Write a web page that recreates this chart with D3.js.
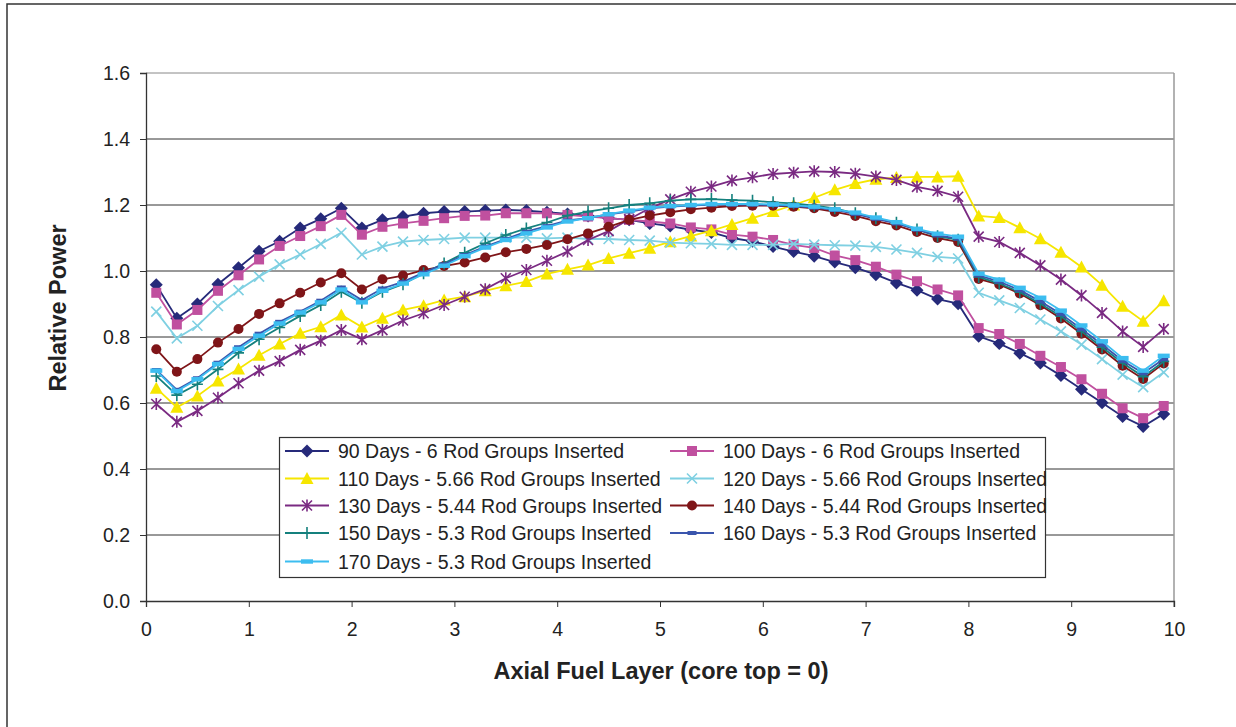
<!DOCTYPE html>
<html>
<head>
<meta charset="utf-8">
<script src="https://cdn.jsdelivr.net/npm/d3@7"></script>
<style>
  body { margin: 0; background: #fff; }
  text { font-family: "Liberation Sans", Arial, sans-serif; fill: #222; }
</style>
</head>
<body>
<div id="chart"></div>
<script>
const layers = [0.1, 0.3, 0.5, 0.7, 0.9, 1.1, 1.3, 1.5, 1.7, 1.9,
                2.1, 2.3, 2.5, 2.7, 2.9, 3.1, 3.3, 3.5, 3.7, 3.9,
                4.1, 4.3, 4.5, 4.7, 4.9, 5.1, 5.3, 5.5, 5.7, 5.9,
                6.1, 6.3, 6.5, 6.7, 6.9, 7.1, 7.3, 7.5, 7.7, 7.9,
                8.1, 8.3, 8.5, 8.7, 8.9, 9.1, 9.3, 9.5, 9.7, 9.9];

const days90 = [0.958, 0.857, 0.900, 0.960, 1.010, 1.060, 1.090, 1.130, 1.158, 1.190,
                1.130, 1.155, 1.165, 1.175, 1.180, 1.180, 1.183, 1.185, 1.183, 1.178,
                1.173, 1.167, 1.160, 1.155, 1.144, 1.136, 1.125, 1.117, 1.100, 1.090,
                1.074, 1.059, 1.045, 1.027, 1.010, 0.989, 0.964, 0.942, 0.915, 0.901,
                0.802, 0.780, 0.751, 0.721, 0.683, 0.642, 0.601, 0.559, 0.529, 0.567];
const days100 = [0.934, 0.838, 0.882, 0.940, 0.987, 1.035, 1.076, 1.106, 1.136, 1.170,
                 1.110, 1.134, 1.144, 1.152, 1.160, 1.167, 1.168, 1.175, 1.175, 1.175,
                 1.170, 1.165, 1.160, 1.155, 1.150, 1.144, 1.132, 1.126, 1.110, 1.104,
                 1.094, 1.079, 1.070, 1.047, 1.033, 1.013, 0.989, 0.969, 0.944, 0.926,
                 0.827, 0.809, 0.779, 0.743, 0.709, 0.672, 0.628, 0.584, 0.554, 0.591];
const days110 = [0.645, 0.587, 0.621, 0.667, 0.703, 0.745, 0.779, 0.811, 0.831, 0.867,
                 0.830, 0.857, 0.882, 0.895, 0.912, 0.922, 0.940, 0.955, 0.968, 0.991,
                 1.005, 1.018, 1.038, 1.054, 1.069, 1.089, 1.106, 1.122, 1.141, 1.160,
                 1.180, 1.200, 1.222, 1.246, 1.265, 1.278, 1.283, 1.285, 1.285, 1.287,
                 1.167, 1.162, 1.131, 1.098, 1.057, 1.012, 0.957, 0.893, 0.848, 0.910];
const days120 = [0.877, 0.796, 0.834, 0.894, 0.942, 0.983, 1.020, 1.050, 1.082, 1.116,
                 1.050, 1.074, 1.089, 1.094, 1.097, 1.101, 1.101, 1.101, 1.101, 1.099,
                 1.101, 1.097, 1.097, 1.094, 1.092, 1.086, 1.084, 1.082, 1.079, 1.079,
                 1.079, 1.082, 1.080, 1.078, 1.077, 1.073, 1.065, 1.055, 1.043, 1.038,
                 0.934, 0.911, 0.888, 0.853, 0.817, 0.777, 0.733, 0.686, 0.648, 0.693];
const days130 = [0.597, 0.543, 0.576, 0.616, 0.660, 0.698, 0.727, 0.761, 0.789, 0.821,
                 0.793, 0.821, 0.850, 0.872, 0.897, 0.922, 0.945, 0.978, 1.003, 1.031,
                 1.059, 1.094, 1.121, 1.157, 1.190, 1.217, 1.240, 1.256, 1.274, 1.284,
                 1.294, 1.298, 1.302, 1.300, 1.295, 1.286, 1.276, 1.255, 1.243, 1.225,
                 1.104, 1.088, 1.055, 1.017, 0.974, 0.926, 0.873, 0.817, 0.770, 0.824];
const days140 = [0.763, 0.695, 0.733, 0.783, 0.824, 0.870, 0.902, 0.934, 0.965, 0.993,
                 0.944, 0.975, 0.986, 1.003, 1.015, 1.026, 1.041, 1.057, 1.067, 1.079,
                 1.096, 1.114, 1.134, 1.155, 1.168, 1.178, 1.187, 1.192, 1.197, 1.198,
                 1.198, 1.195, 1.190, 1.179, 1.167, 1.151, 1.138, 1.118, 1.100, 1.088,
                 0.976, 0.959, 0.932, 0.896, 0.856, 0.810, 0.762, 0.713, 0.673, 0.720];
const days150 = [0.682, 0.624, 0.657, 0.702, 0.752, 0.793, 0.829, 0.864, 0.897, 0.937,
                 0.904, 0.937, 0.960, 0.993, 1.023, 1.055, 1.084, 1.109, 1.129, 1.147,
                 1.168, 1.180, 1.190, 1.200, 1.205, 1.213, 1.217, 1.218, 1.215, 1.213,
                 1.208, 1.205, 1.198, 1.190, 1.175, 1.160, 1.146, 1.126, 1.105, 1.095,
                 0.982, 0.962, 0.936, 0.901, 0.863, 0.817, 0.769, 0.721, 0.680, 0.726];
const days160 = [0.700, 0.640, 0.675, 0.722, 0.769, 0.810, 0.846, 0.877, 0.910, 0.950,
                 0.912, 0.947, 0.967, 0.995, 1.020, 1.048, 1.074, 1.097, 1.119, 1.136,
                 1.153, 1.160, 1.172, 1.180, 1.190, 1.195, 1.198, 1.201, 1.201, 1.201,
                 1.200, 1.197, 1.192, 1.185, 1.173, 1.158, 1.144, 1.125, 1.108, 1.098,
                 0.987, 0.968, 0.942, 0.908, 0.870, 0.824, 0.777, 0.728, 0.690, 0.733];
const days170 = [0.698, 0.636, 0.672, 0.718, 0.764, 0.804, 0.841, 0.874, 0.905, 0.944,
                 0.905, 0.940, 0.962, 0.990, 1.016, 1.045, 1.071, 1.094, 1.114, 1.132,
                 1.150, 1.160, 1.172, 1.183, 1.192, 1.197, 1.200, 1.203, 1.203, 1.203,
                 1.202, 1.199, 1.195, 1.187, 1.177, 1.162, 1.148, 1.128, 1.113, 1.104,
                 0.992, 0.974, 0.949, 0.919, 0.880, 0.835, 0.787, 0.736, 0.698, 0.743];

const seriesNames = ["90 Days - 6 Rod Groups Inserted", "100 Days - 6 Rod Groups Inserted",
                     "110 Days - 5.66 Rod Groups Inserted", "120 Days - 5.66 Rod Groups Inserted",
                     "130 Days - 5.44 Rod Groups Inserted", "140 Days - 5.44 Rod Groups Inserted",
                     "150 Days - 5.3 Rod Groups Inserted", "160 Days - 5.3 Rod Groups Inserted",
                     "170 Days - 5.3 Rod Groups Inserted"];
const seriesValues = [days90, days100, days110, days120, days130, days140, days150, days160, days170];
const xTicks = [0, 1, 2, 3, 4, 5, 6, 7, 8, 9, 10];
const yTicks = [0, 0.2, 0.4, 0.6, 0.8, 1.0, 1.2, 1.4, 1.6];

const styles = [
  { color: "#262a7a", marker: "diamond" },
  { color: "#c0509f", marker: "square" },
  { color: "#f6e600", marker: "triangle" },
  { color: "#7fd0e2", marker: "x" },
  { color: "#7a2a82", marker: "asterisk" },
  { color: "#7f1518", marker: "circle" },
  { color: "#14807d", marker: "plus" },
  { color: "#3a55ad", marker: "dash" },
  { color: "#3cbdf0", marker: "dashwide" }
];

const width = 1236, height = 727;
const margin = { left: 146, right: 62, top: 73, bottom: 126 };

const svg = d3.select("#chart").append("svg")
  .attr("width", width)
  .attr("height", height);

// outer frame, runs off the right and bottom of the picture
svg.append("rect")
  .attr("x", 7).attr("y", 4)
  .attr("width", 1260).attr("height", 760)
  .attr("fill", "none").attr("stroke", "#333").attr("stroke-width", 1.5);

const x = d3.scaleLinear().domain([0, 10]).range([margin.left, width - margin.right]);
const y = d3.scaleLinear().domain([0, 1.6]).range([height - margin.bottom, margin.top]);

// gridlines
svg.append("g")
  .selectAll("line")
  .data(yTicks.filter(t => t > 0))
  .enter().append("line")
  .attr("x1", x(0)).attr("x2", x(10))
  .attr("y1", d => y(d)).attr("y2", d => y(d))
  .attr("stroke", d => d === 1.6 ? "#888" : "#333")
  .attr("stroke-width", 1);

// right plot border
svg.append("line")
  .attr("x1", x(10)).attr("x2", x(10))
  .attr("y1", y(1.6)).attr("y2", y(0) + 6)
  .attr("stroke", "#999").attr("stroke-width", 1.5);

const xAxis = svg.append("g")
  .attr("transform", `translate(0,${y(0)})`)
  .call(d3.axisBottom(x).tickValues(xTicks).tickSize(6).tickPadding(15).tickFormat(d3.format("d")));
const yAxis = svg.append("g")
  .attr("transform", `translate(${x(0)},0)`)
  .call(d3.axisLeft(y).tickValues(yTicks).tickSize(6).tickPadding(10).tickFormat(d3.format(".1f")));

[xAxis, yAxis].forEach(a => {
  a.select(".domain").attr("stroke", "#333").attr("stroke-width", 1.3);
  a.selectAll(".tick line").attr("stroke", "#333");
  a.selectAll(".tick text")
    .attr("font-family", '"Liberation Sans", Arial, sans-serif')
    .attr("font-size", 19.5).attr("fill", "#222");
});

svg.append("text")
  .attr("x", 661).attr("y", 679)
  .attr("text-anchor", "middle")
  .attr("font-size", 23.5).attr("font-weight", "bold")
  .text("Axial Fuel Layer (core top = 0)");

svg.append("text")
  .attr("transform", "translate(66,308) rotate(-90)")
  .attr("text-anchor", "middle")
  .attr("font-size", 23.5).attr("font-weight", "bold")
  .text("Relative Power");

function drawMarker(g, type, color) {
  switch (type) {
    case "diamond":
      g.append("path").attr("d", "M0,-6.5L6.5,0L0,6.5L-6.5,0Z").attr("fill", color);
      break;
    case "square":
      g.append("rect").attr("x", -5).attr("y", -5).attr("width", 10).attr("height", 10).attr("fill", color);
      break;
    case "triangle":
      g.append("path").attr("d", "M0,-6.5L6.5,5.5L-6.5,5.5Z").attr("fill", color);
      break;
    case "circle":
      g.append("circle").attr("r", 5).attr("fill", color);
      break;
    case "x":
      g.append("path").attr("d", "M-5,-5L5,5M-5,5L5,-5")
        .attr("stroke", color).attr("stroke-width", 1.6).attr("fill", "none");
      break;
    case "asterisk":
      g.append("path").attr("d", "M-5,-5L5,5M-5,5L5,-5M0,-6L0,6")
        .attr("stroke", color).attr("stroke-width", 1.6).attr("fill", "none");
      break;
    case "plus":
      g.append("path").attr("d", "M-5.5,0L5.5,0M0,-6L0,6")
        .attr("stroke", color).attr("stroke-width", 1.6).attr("fill", "none");
      break;
    case "dash":
      g.append("rect").attr("x", -4.5).attr("y", -2).attr("width", 9).attr("height", 4).attr("fill", color);
      break;
    case "dashwide":
      g.append("rect").attr("x", -6).attr("y", -2.2).attr("width", 12).attr("height", 4.4).attr("fill", color);
      break;
  }
}

const line = d3.line().x(d => x(d[0])).y(d => y(d[1]));

seriesValues.forEach((vals, i) => {
  const pts = layers.map((l, j) => [l, vals[j]]);
  const g = svg.append("g").attr("class", "series");
  g.append("path")
    .datum(pts)
    .attr("d", line)
    .attr("fill", "none")
    .attr("stroke", styles[i].color)
    .attr("stroke-width", 1.8);
  g.selectAll(".m")
    .data(pts)
    .enter().append("g")
    .attr("class", "m")
    .attr("transform", d => `translate(${x(d[0])},${y(d[1])})`)
    .each(function () { drawMarker(d3.select(this), styles[i].marker, styles[i].color); });
});

// legend
const legend = svg.append("g");
legend.append("rect")
  .attr("x", 279.5).attr("y", 437.5)
  .attr("width", 766).attr("height", 140)
  .attr("fill", "#fff").attr("stroke", "#333").attr("stroke-width", 1.2);

const rowY = [451, 478.5, 505.5, 533, 561.5];
seriesNames.forEach((name, i) => {
  const col = i % 2, row = Math.floor(i / 2);
  const lx = col === 0 ? 285 : 670;
  const g = legend.append("g").attr("transform", `translate(0,${rowY[row]})`);
  g.append("line")
    .attr("x1", lx).attr("x2", lx + 44)
    .attr("stroke", styles[i].color).attr("stroke-width", 1.8);
  const m = g.append("g").attr("transform", `translate(${lx + 22},0)`);
  drawMarker(m, styles[i].marker, styles[i].color);
  g.append("text")
    .attr("x", lx + 53).attr("y", 7)
    .attr("font-size", 19.5)
    .text(name);
});
</script>
</body>
</html>
